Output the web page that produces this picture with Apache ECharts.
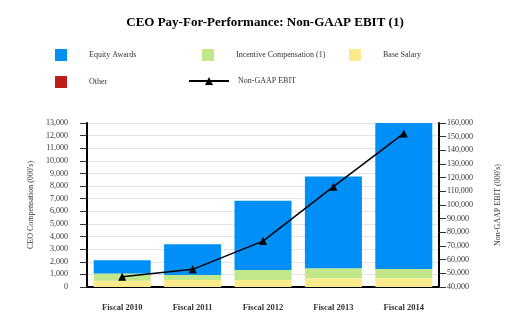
<!DOCTYPE html>
<html><head><meta charset="utf-8">
<script src="https://cdn.jsdelivr.net/npm/echarts@6/dist/echarts.min.js"></script>
<style>html,body{margin:0;padding:0;background:#fff}#c{width:530px;height:333px}</style>
</head><body><div id="c"></div>
<script>
const categories = ['Fiscal 2010','Fiscal 2011','Fiscal 2012','Fiscal 2013','Fiscal 2014'];
const baseSalary = [500, 550, 560, 690, 690];
const incentive = [580, 400, 790, 790, 740];
const equity = [1050, 2440, 5480, 7270, 11570];
const other = [0, 0, 0, 0, 0];
const ebit = [47500, 52900, 73600, 113400, 152400];
const leftTicks = {min: 0, max: 13000, interval: 1000};
const rightTicks = {min: 40000, max: 160000, interval: 10000};

const serif = '"Liberation Serif", "DejaVu Serif", serif';
const fmt = v => v.toLocaleString('en-US');
const chart = echarts.init(document.getElementById('c'));
function leg(name, left, top, opts) {
  return Object.assign({
    data: [name], left: left, top: top, itemWidth: 12, itemHeight: 12, padding: 0,
    icon: 'rect', selectedMode: false,
    textStyle: {fontFamily: serif, fontSize: 8, color: '#333', padding: [0, 0, 0, 17]}
  }, opts || {});
}
chart.setOption({
  animation: false,
  title: {text: 'CEO Pay-For-Performance: Non-GAAP EBIT (1)', left: 'center', top: 11,
    textStyle: {fontFamily: serif, fontSize: 13, fontWeight: 'bold', color: '#000'}},
  legend: [
    leg('Equity Awards', 55, 49),
    leg('Incentive Compensation (1)', 202, 49),
    leg('Base Salary', 349, 49),
    leg('Other', 55, 76),
    leg('Non-GAAP EBIT', 188, 77, {icon: null, itemWidth: 40, itemHeight: 10,
      textStyle: {fontFamily: serif, fontSize: 8, color: '#333', padding: [0, 0, 0, 4]}})
  ],
  grid: {left: 87, right: 91, top: 123, bottom: 46},
  xAxis: {type: 'category', data: categories,
    axisLine: {lineStyle: {color: '#000', width: 2}},
    axisTick: {alignWithLabel: true, length: 6, lineStyle: {color: '#000'}},
    axisLabel: {fontFamily: serif, fontSize: 8.5, fontWeight: 'bold', color: '#333', margin: 16}},
  yAxis: [
    {type: 'value', min: leftTicks.min, max: leftTicks.max, interval: leftTicks.interval,
      name: "CEO Compensation (000's)", nameLocation: 'middle', nameGap: 49,
      nameTextStyle: {fontFamily: serif, fontSize: 8, color: '#333'},
      axisLine: {show: true, lineStyle: {color: '#000', width: 2}},
      axisTick: {show: true, length: 7, lineStyle: {color: '#333'}},
      axisLabel: {fontFamily: serif, fontSize: 8, color: '#333', formatter: fmt, margin: 19},
      splitLine: {lineStyle: {color: '#e4e4e4', width: 1}}},
    {type: 'value', min: rightTicks.min, max: rightTicks.max, interval: rightTicks.interval,
      name: "Non-GAAP EBIT (000's)", nameLocation: 'middle', nameGap: 55, nameRotate: 90,
      nameTextStyle: {fontFamily: serif, fontSize: 8, color: '#333'},
      axisLine: {show: true, lineStyle: {color: '#000', width: 2}},
      axisTick: {show: true, length: 7, lineStyle: {color: '#333'}},
      axisLabel: {fontFamily: serif, fontSize: 8, color: '#333', formatter: fmt, margin: 8},
      splitLine: {show: false}}
  ],
  series: [
    {name: 'Base Salary', type: 'bar', stack: 'c', data: baseSalary, barWidth: 57, itemStyle: {color: '#FBEB8C'}},
    {name: 'Incentive Compensation (1)', type: 'bar', stack: 'c', data: incentive, itemStyle: {color: '#C2E68A'}},
    {name: 'Equity Awards', type: 'bar', stack: 'c', data: equity, itemStyle: {color: '#008FF7'}},
    {name: 'Other', type: 'bar', stack: 'c', data: other, itemStyle: {color: '#BE1E1A'}},
    {name: 'Non-GAAP EBIT', type: 'line', yAxisIndex: 1, data: ebit, symbol: 'triangle', symbolSize: 8,
      lineStyle: {color: '#000', width: 1.5}, itemStyle: {color: '#000'}, z: 5}
  ]
});
</script></body></html>
